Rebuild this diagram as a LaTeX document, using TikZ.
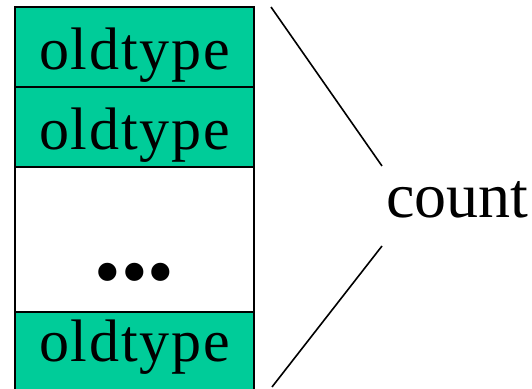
\documentclass[tikz,border=0pt]{standalone}
\usepackage{fontspec}
\setmainfont{Liberation Serif}
\usetikzlibrary{positioning}

\definecolor{cellgreen}{RGB}{0,204,153}

% slightly loose type for the cell labels
\newcommand{\widetype}[1]{{\addfontfeature{LetterSpace=3}#1}}

\tikzset{
  cell/.style={draw,line width=1.25pt,rectangle,inner sep=0pt,outer sep=0pt,
    minimum width=119.5pt,minimum height=40pt,
    font=\fontsize{30}{32}\selectfont,text height=31pt,text depth=8pt},
  filled/.style={cell,fill=cellgreen},
  brace line/.style={line width=0.8pt}
}

\begin{document}
\begin{tikzpicture}[x=0.5pt,y=-0.5pt]

\useasboundingbox (0,0) rectangle (532,389);
\clip (0,0) rectangle (532,389);

% the array of cells
\node[filled,anchor=north west] (r1) at (15,7) {\widetype{oldtype}};
\node[filled,below=0pt of r1] (r2) {\widetype{oldtype}};
\node[cell,below=0pt of r2,minimum height=72.5pt,
  font=\fontsize{38}{40}\selectfont,text height=64pt,text depth=5.5pt] (r3) {•••};
\node[filled,below=0pt of r3,text height=20pt,text depth=10pt] (r4) {\widetype{oldtype}};

% count label with its two lines
\node[anchor=base west,inner sep=0pt,font=\fontsize{32}{34}\selectfont] (count) at (386,218) {count};
\coordinate (top) at (271,7);
\coordinate (topend) at (382,166);
\coordinate (bot) at (272,387);
\coordinate (botend) at (382,246);
\draw[brace line] (top) -- (topend);
\draw[brace line] (botend) -- (bot);

\end{tikzpicture}
\end{document}
